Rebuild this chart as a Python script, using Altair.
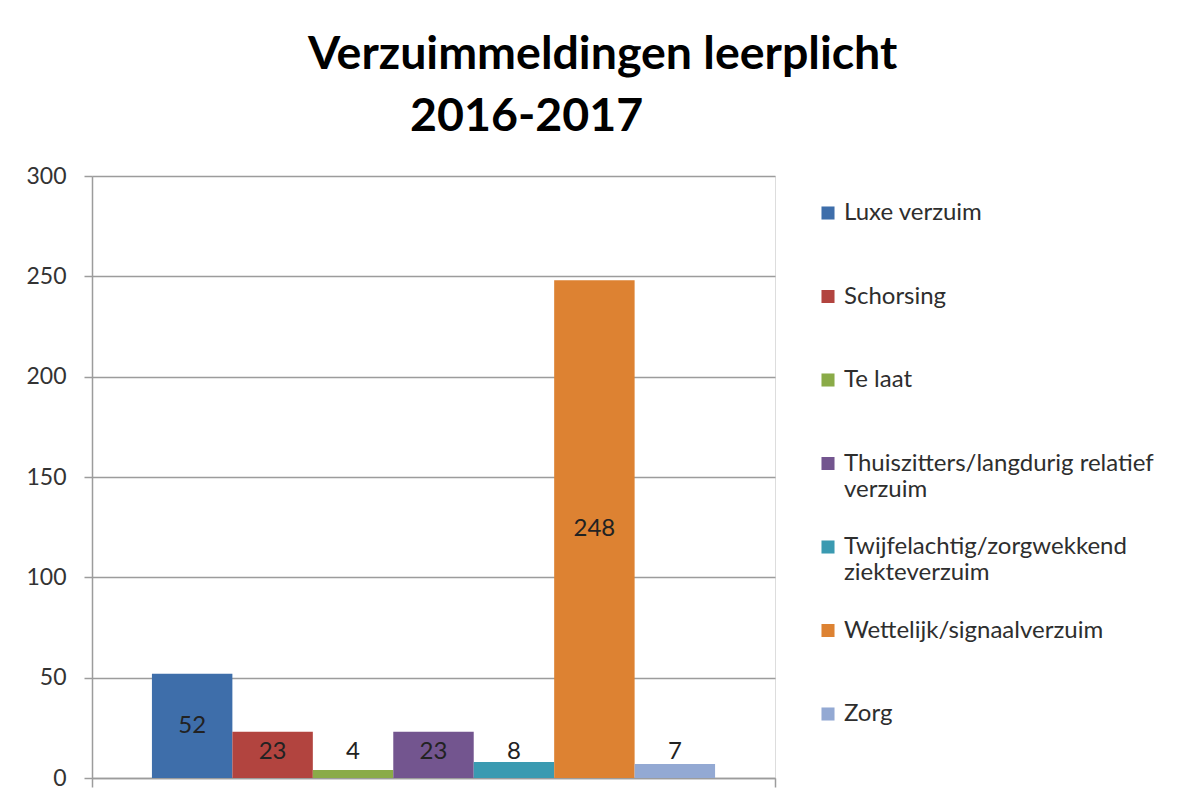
import altair as alt
import pandas as pd

categories = [
    "Luxe verzuim",
    "Schorsing",
    "Te laat",
    "Thuiszitters/langdurig relatief verzuim",
    "Twijfelachtig/zorgwekkend ziekteverzuim",
    "Wettelijk/signaalverzuim",
    "Zorg",
]
values = [52, 23, 4, 23, 8, 248, 7]
colors = ["#3E6EAA", "#B2443F", "#8AAB48", "#73558F", "#3A9AB1", "#DD8232", "#93A9D3"]
y_ticks = [0, 50, 100, 150, 200, 250, 300]
group = "2016-2017"

df = pd.DataFrame({"groep": [group] * len(categories), "categorie": categories, "aantal": values})

FONT = "Lato"
GRID = "#9C9C9C"

label_expr = (
    "datum.label == 'Thuiszitters/langdurig relatief verzuim' ? ['Thuiszitters/langdurig relatief', 'verzuim'] : "
    "datum.label == 'Twijfelachtig/zorgwekkend ziekteverzuim' ? ['Twijfelachtig/zorgwekkend', 'ziekteverzuim'] : "
    "datum.label"
)

base = alt.Chart(df).encode(
    x=alt.X(
        "groep:N",
        scale=alt.Scale(paddingInner=0, paddingOuter=0),
        axis=alt.Axis(
            labels=False, title=None, ticks=True, tickBand="extent", tickSize=9,
            tickColor=GRID, tickWidth=1.5, domainColor=GRID, domainWidth=1.5, grid=False,
        ),
    ),
    xOffset=alt.XOffset(
        "categorie:N", sort=categories,
        scale=alt.Scale(paddingInner=0, paddingOuter=0.745),
    ),
)

bars = base.mark_bar().encode(
    y=alt.Y(
        "aantal:Q",
        scale=alt.Scale(domain=[0, 300], nice=False),
        axis=alt.Axis(
            values=y_ticks, title=None, grid=True, gridColor=GRID, gridWidth=1.5,
            tickSize=8, tickColor=GRID, tickWidth=1.5, domainColor=GRID, domainWidth=1.5,
            labelFont=FONT, labelFontSize=23, labelColor="#333333", labelPadding=18,
        ),
    ),
    color=alt.Color(
        "categorie:N", sort=categories,
        scale=alt.Scale(domain=categories, range=colors),
        legend=alt.Legend(
            title=None, orient="none", legendX=724, legendY=25,
            symbolType="square", symbolSize=170, symbolStrokeWidth=0,
            labelFont=FONT, labelFontSize=24, labelColor="#2E2E2E", labelLimit=400,
            labelOffset=4, rowPadding=33.5, gridAlign="all",
            labelExpr=label_expr,
        ),
    ),
)

labels = base.mark_text(font=FONT, fontSize=24, color="#222222").transform_calculate(
    label_y="max(datum.aantal / 2, 13)"
).encode(
    y=alt.Y("label_y:Q"),
    text=alt.Text("aantal:Q"),
)

chart = (
    alt.layer(bars, labels)
    .properties(
        width=683,
        height=602,
        title=alt.TitleParams(
            text=["Verzuimmeldingen leerplicht", "\u2800" * 3 + "2016-2017"],
            font=FONT, fontSize=46.5, fontWeight="bold", color="#000000",
            anchor="start", frame="group", dx=216, offset=25, lineHeight=62,
        ),
        padding={"left": 92, "top": 176, "right": 410, "bottom": 23},
        autosize=alt.AutoSizeParams(type="none"),
    )
    .configure_view(stroke=None)
    .configure(background="#FFFFFF")
)

chart.save("out.html", embed_options={"renderer": "svg", "actions": False})
